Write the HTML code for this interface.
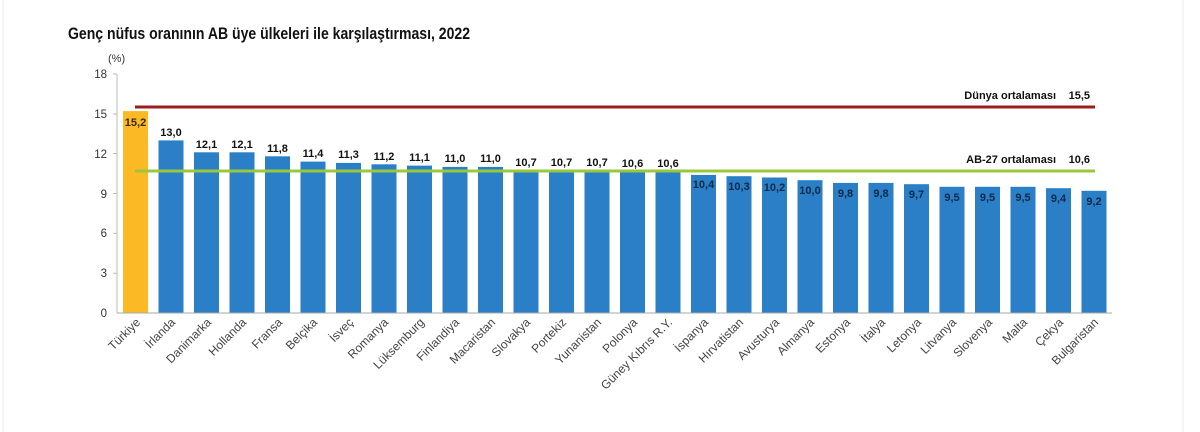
<!DOCTYPE html>
<html><head><meta charset="utf-8"><style>
body{margin:0;background:#fff}
svg{display:block;font-family:"Liberation Sans",Arial,sans-serif}
.v{font-size:11px;font-weight:bold;fill:#111;text-anchor:middle}
.vi{font-size:11px;font-weight:bold;fill:#0d2a4a;text-anchor:middle}
.c{font-size:12px;fill:#444;text-anchor:end}
.y{font-size:11.5px;fill:#333;text-anchor:end}
</style></head><body>
<svg width="1200" height="432" viewBox="0 0 1200 432">
<rect width="1200" height="432" fill="#fff"/>
<line x1="3" y1="0" x2="3" y2="432" stroke="#eee"/>
<line x1="1183" y1="0" x2="1183" y2="432" stroke="#eee"/>
<text x="68" y="39" font-size="17" font-weight="bold" fill="#111" textLength="402" lengthAdjust="spacingAndGlyphs">Genç nüfus oranının AB üye ülkeleri ile karşılaştırması, 2022</text>
<text x="108" y="62" font-size="11" fill="#333">(%)</text>
<g class="y">
<text x="107" y="78">18</text><text x="107" y="118">15</text><text x="107" y="158">12</text><text x="107" y="198">9</text><text x="107" y="237">6</text><text x="107" y="277">3</text><text x="107" y="317">0</text>
</g>
<line x1="117" y1="74" x2="117" y2="313" stroke="#bbb"/>
<g stroke="#bbb"><line x1="113" y1="74" x2="117" y2="74"/><line x1="113" y1="114" x2="117" y2="114"/><line x1="113" y1="153.6" x2="117" y2="153.6"/><line x1="113" y1="193.5" x2="117" y2="193.5"/><line x1="113" y1="233.3" x2="117" y2="233.3"/><line x1="113" y1="273.2" x2="117" y2="273.2"/></g>
<rect x="123" y="111.1" width="25" height="201.9" fill="#fbb925"/>
<g fill="#2a7fc6">
<rect x="158.5" y="140.4" width="25" height="172.6"/>
<rect x="194" y="152.3" width="25" height="160.7"/>
<rect x="229.5" y="152.3" width="25" height="160.7"/>
<rect x="265" y="156.3" width="25" height="156.7"/>
<rect x="300.5" y="161.6" width="25" height="151.4"/>
<rect x="336" y="162.9" width="25" height="150.1"/>
<rect x="371.5" y="164.3" width="25" height="148.7"/>
<rect x="407" y="165.6" width="25" height="147.4"/>
<rect x="442.5" y="166.9" width="25" height="146.1"/>
<rect x="478" y="166.9" width="25" height="146.1"/>
<rect x="513.5" y="170.9" width="25" height="142.1"/>
<rect x="549" y="170.9" width="25" height="142.1"/>
<rect x="584.5" y="170.9" width="25" height="142.1"/>
<rect x="620" y="172.2" width="25" height="140.8"/>
<rect x="655.5" y="172.2" width="25" height="140.8"/>
<rect x="691" y="174.9" width="25" height="138.1"/>
<rect x="726.5" y="176.2" width="25" height="136.8"/>
<rect x="762" y="177.5" width="25" height="135.5"/>
<rect x="797.5" y="180.2" width="25" height="132.8"/>
<rect x="833" y="182.9" width="25" height="130.1"/>
<rect x="868.5" y="182.9" width="25" height="130.1"/>
<rect x="904" y="184.2" width="25" height="128.8"/>
<rect x="939.5" y="186.8" width="25" height="126.2"/>
<rect x="975" y="186.8" width="25" height="126.2"/>
<rect x="1010.5" y="186.8" width="25" height="126.2"/>
<rect x="1046" y="188.2" width="25" height="124.8"/>
<rect x="1081.5" y="190.8" width="25" height="122.2"/>
</g>
<line x1="135" y1="107" x2="1095" y2="107" stroke="#9b1d1d" stroke-width="3"/>
<line x1="135" y1="171" x2="1095" y2="171" stroke="#9ac83c" stroke-width="3"/>
<g font-size="11" font-weight="bold" fill="#111" text-anchor="end">
<text x="1056" y="99">Dünya ortalaması</text><text x="1090" y="99">15,5</text>
<text x="1056" y="163">AB-27 ortalaması</text><text x="1090" y="163">10,6</text>
</g>
<line x1="117" y1="313" x2="1112" y2="313" stroke="#aaa"/>
<g class="v">
<text x="135.5" y="126" fill="#3a2a00">15,2</text>
<text x="171" y="136">13,0</text><text x="206.5" y="148">12,1</text><text x="242" y="148">12,1</text><text x="277.5" y="152">11,8</text><text x="313" y="157">11,4</text><text x="348.5" y="158">11,3</text><text x="384" y="160">11,2</text><text x="419.5" y="161">11,1</text><text x="455" y="162">11,0</text><text x="490.5" y="162">11,0</text><text x="526" y="166">10,7</text><text x="561.5" y="166">10,7</text><text x="597" y="166">10,7</text><text x="632.5" y="167">10,6</text><text x="668" y="167">10,6</text>
</g>
<g class="vi">
<text x="703.5" y="188">10,4</text><text x="739" y="190">10,3</text><text x="774.5" y="191">10,2</text><text x="810" y="194">10,0</text><text x="845.5" y="197">9,8</text><text x="881" y="197">9,8</text><text x="916.5" y="198">9,7</text><text x="952" y="201">9,5</text><text x="987.5" y="201">9,5</text><text x="1023" y="201">9,5</text><text x="1058.5" y="202">9,4</text><text x="1094" y="205">9,2</text>
</g>
<g class="c">
<text transform="translate(141,323) rotate(-45)">Türkiye</text>
<text transform="translate(176,323) rotate(-45)">İrlanda</text>
<text transform="translate(212,323) rotate(-45)">Danimarka</text>
<text transform="translate(247,323) rotate(-45)">Hollanda</text>
<text transform="translate(283,323) rotate(-45)">Fransa</text>
<text transform="translate(318,323) rotate(-45)">Belçika</text>
<text transform="translate(354,323) rotate(-45)">İsveç</text>
<text transform="translate(389,323) rotate(-45)">Romanya</text>
<text transform="translate(425,323) rotate(-45)">Lüksemburg</text>
<text transform="translate(460,323) rotate(-45)">Finlandiya</text>
<text transform="translate(496,323) rotate(-45)">Macaristan</text>
<text transform="translate(531,323) rotate(-45)">Slovakya</text>
<text transform="translate(567,323) rotate(-45)">Portekiz</text>
<text transform="translate(602,323) rotate(-45)">Yunanistan</text>
<text transform="translate(638,323) rotate(-45)">Polonya</text>
<text transform="translate(673,323) rotate(-45)">Güney Kıbrıs R.Y.</text>
<text transform="translate(709,323) rotate(-45)">İspanya</text>
<text transform="translate(744,323) rotate(-45)">Hırvatistan</text>
<text transform="translate(780,323) rotate(-45)">Avusturya</text>
<text transform="translate(815,323) rotate(-45)">Almanya</text>
<text transform="translate(851,323) rotate(-45)">Estonya</text>
<text transform="translate(886,323) rotate(-45)">İtalya</text>
<text transform="translate(922,323) rotate(-45)">Letonya</text>
<text transform="translate(957,323) rotate(-45)">Litvanya</text>
<text transform="translate(993,323) rotate(-45)">Slovenya</text>
<text transform="translate(1028,323) rotate(-45)">Malta</text>
<text transform="translate(1064,323) rotate(-45)">Çekya</text>
<text transform="translate(1099,323) rotate(-45)">Bulgaristan</text>
</g>
</svg>
</body></html>
